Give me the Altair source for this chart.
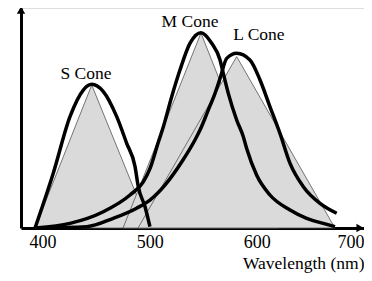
import altair as alt
import pandas as pd

# Thick response curves (wavelength nm, relative sensitivity)
s_nm = [393.1, 410.1, 425.7, 438.1, 446.0, 456.8, 469.3, 478.6, 486.4, 489.4, 495.7, 500.3]
s_val = [0.0, 0.249, 0.506, 0.627, 0.653, 0.620, 0.506, 0.385, 0.279, 0.188, 0.097, 0.006]

m_nm = [394.0, 425.7, 456.8, 481.7, 494.1, 500.3, 508.1, 512.8, 520.6, 528.3, 537.7, 547.9,
        557.9, 565.7, 568.7, 573.4, 581.2, 587.4, 590.6, 599.9, 612.3, 631.0, 646.5, 662.0, 672.9]
m_val = [0.0, 0.021, 0.074, 0.15, 0.21, 0.27, 0.39, 0.460, 0.597, 0.718, 0.840, 0.888,
         0.840, 0.764, 0.703, 0.612, 0.491, 0.415, 0.360, 0.240, 0.150, 0.082, 0.044, 0.021, 0.006]

l_nm = [394.0, 441.3, 466.1, 487.9, 500.3, 514.3, 531.1, 542.3, 547.0, 554.7, 561.0, 565.7,
        571.9, 581.2, 593.6, 603.0, 612.3, 621.6, 631.0, 643.4, 659.0, 674.5]
l_val = [0.0, 0.006, 0.044, 0.090, 0.127, 0.195, 0.309, 0.40, 0.445, 0.536, 0.612, 0.680,
         0.771, 0.794, 0.764, 0.673, 0.551, 0.430, 0.294, 0.188, 0.112, 0.067]

# Triangular approximations
tri_cone = ["S", "S", "S", "M", "M", "M", "L", "L", "L"]
tri_nm = [393.1, 446.0, 500.3, 475.2, 547.9, 620.0, 489.2, 581.2, 672.9]
tri_val = [0, 0.65, 0, 0, 0.886, 0, 0, 0.779, 0]

# Labels
label_text = ["S Cone", "M Cone", "L Cone"]
label_nm = [440.6, 537.7, 602.0]
label_val = [0.70, 0.936, 0.877]

tick_values = [400, 500, 600, 700]
x_domain = [380, 700]
y_domain = [0, 1]

# Axis arrowheads
up_arrow_nm = [380]
up_arrow_val = [0.99]
right_arrow_nm = [696.3]
right_arrow_val = [0.0]

curves = pd.concat([
    pd.DataFrame({"cone": "S", "nm": s_nm, "val": s_val}),
    pd.DataFrame({"cone": "M", "nm": m_nm, "val": m_val}),
    pd.DataFrame({"cone": "L", "nm": l_nm, "val": l_val}),
])
tris = pd.DataFrame({"cone": tri_cone, "nm": tri_nm, "val": tri_val})
labels = pd.DataFrame({"text": label_text, "nm": label_nm, "val": label_val})
up = pd.DataFrame({"nm": up_arrow_nm, "val": up_arrow_val})
right = pd.DataFrame({"nm": right_arrow_nm, "val": right_arrow_val})

FONT = "Liberation Serif"

x_enc = alt.X("nm:Q", scale=alt.Scale(domain=x_domain, nice=False, zero=False),
              axis=alt.Axis(values=tick_values, grid=False, ticks=False, domainColor="black",
                            domainWidth=3, labelFont=FONT, labelFontSize=18, labelColor="black",
                            labelPadding=5, title="Wavelength (nm)", titleFont=FONT,
                            titleFontSize=17.5, titleFontWeight="normal", titleColor="black",
                            titleX=343, titleY=26, titleAlign="right", titleBaseline="top",
                            format="d"))
y_enc = alt.Y("val:Q", stack=None, scale=alt.Scale(domain=y_domain, nice=False, zero=True),
              axis=alt.Axis(grid=False, ticks=False, labels=False, title=None,
                            domainColor="black", domainWidth=3))

tri_layer = alt.Chart(tris).mark_area(color="#dadada", stroke="#555555", strokeWidth=0.8,
                                      opacity=1).encode(x=x_enc, y=y_enc, detail="cone:N")
curve_layer = alt.Chart(curves).mark_line(color="black", strokeWidth=3.5,
                                          interpolate="monotone").encode(
    x="nm:Q", y="val:Q", detail="cone:N")
label_layer = alt.Chart(labels).mark_text(font=FONT, fontSize=17.5, color="black").encode(
    x="nm:Q", y="val:Q", text="text:N")
up_layer = alt.Chart(up).mark_point(shape="triangle-up", filled=True, color="black",
                                    size=70, opacity=1).encode(x="nm:Q", y="val:Q")
right_layer = alt.Chart(right).mark_point(shape="triangle-right", filled=True, color="black",
                                          size=70, opacity=1).encode(x="nm:Q", y="val:Q")

chart = alt.layer(tri_layer, curve_layer, label_layer, up_layer, right_layer).properties(
    width=343, height=220,
    autosize=alt.AutoSizeParams(type="none"),
    padding={"left": 13, "top": 0, "right": 0, "bottom": 45},
).configure_view(stroke=None).configure(background="white")

chart.save("out.html", embed_options={"renderer": "svg", "actions": False})
